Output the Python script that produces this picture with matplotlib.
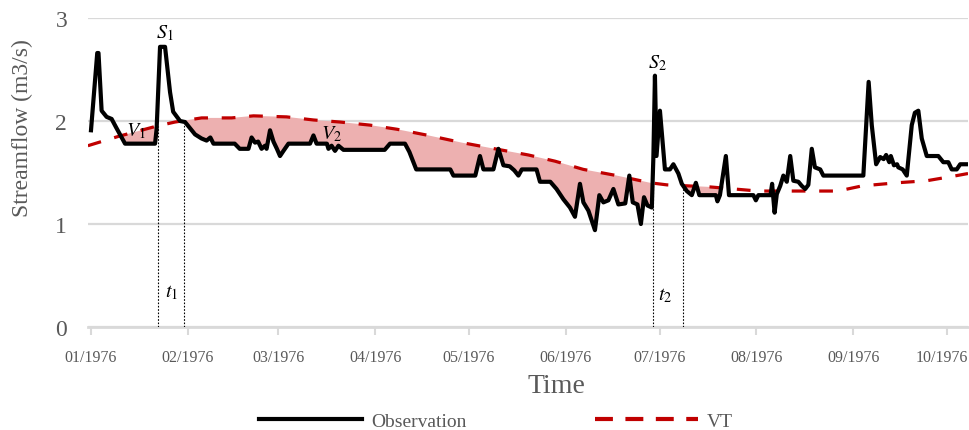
import datetime as dt
import numpy as np
import matplotlib
matplotlib.use("Agg")
import matplotlib.pyplot as plt
import matplotlib.dates as mdates
import matplotlib.transforms as mtransforms
from matplotlib.lines import Line2D

plt.rcParams['font.family'] = ['Liberation Serif', 'DejaVu Serif']
plt.rcParams['mathtext.fontset'] = 'stix'

# ---- data: days counted from 1 Jan 1976 ----
obs_days = [0, 2.0, 2.4, 3.4, 5.0, 6.6, 8.0, 9.8, 10.9, 20.5, 21.0, 22.1, 23.7,
            25.3, 26.3, 28.5, 30.1, 33.3, 35.4, 37.0, 38.2, 39.2, 46.0, 47.6,
            50.4, 51.4, 52.5, 53.5, 54.6, 55.7, 56.2, 57.3, 58.4, 59.5, 60.5,
            61.6, 63.2, 70.1, 71.2, 72.2, 75.5, 76.0, 77.0, 78.1, 79.2, 80.8,
            94.0, 95.7, 100.5, 101.9, 104.1, 115.0, 116.0, 123.0, 124.5, 125.6,
            128.8, 130.4, 132.0, 134.0, 135.5, 136.8, 137.9, 142.6, 143.7,
            147.0, 149.0, 151.2, 153.3, 154.9, 156.5, 157.6, 159.2, 161.3,
            162.7, 164.0, 165.6, 167.2, 168.8, 171.0, 172.3, 173.4, 174.9,
            176.0, 177.0, 178.1, 179.5, 180.0, 180.5, 181.0, 182.1, 183.7,
            185.3, 186.4, 188.0, 189.1, 190.7, 192.3, 193.6, 194.7, 200.0,
            200.5, 201.3, 203.2, 204.2, 212.0, 212.8, 213.6, 217.5, 218.0,
            218.8, 219.5, 220.6, 221.6, 222.7, 223.8, 224.8, 226.4, 227.5,
            228.6, 229.6, 230.7, 231.7, 233.4, 234.4, 247.2, 248.9, 249.9,
            251.3, 252.6, 253.7, 254.5, 255.5, 256.0, 257.0, 258.0, 258.4,
            259.8, 261.1, 262.7, 263.7, 264.8, 265.9, 267.5, 271.2, 272.8,
            274.4, 275.5, 277.1, 278.2, 280.3]
obs_vals = [1.91, 2.66, 2.66, 2.10, 2.04, 2.02, 1.94, 1.84, 1.78, 1.78, 1.92, 2.72, 2.72,
            2.28, 2.09, 2.00, 1.99, 1.87, 1.83, 1.81, 1.84, 1.78, 1.78, 1.73,
            1.73, 1.84, 1.79, 1.80, 1.73, 1.76, 1.73, 1.91, 1.80, 1.73, 1.66,
            1.71, 1.78, 1.78, 1.86, 1.78, 1.78, 1.73, 1.76, 1.71, 1.76, 1.72,
            1.72, 1.78, 1.78, 1.70, 1.53, 1.53, 1.47, 1.47, 1.66, 1.53,
            1.53, 1.73, 1.57, 1.56, 1.52, 1.47, 1.53, 1.53, 1.41,
            1.41, 1.34, 1.24, 1.16, 1.07, 1.39, 1.21, 1.13, 0.94,
            1.28, 1.21, 1.23, 1.34, 1.19, 1.20, 1.47, 1.21, 1.19,
            1.00, 1.26, 1.18, 1.16, 1.65, 2.44, 1.66, 2.10, 1.53,
            1.53, 1.58, 1.49, 1.39, 1.32, 1.28, 1.40, 1.28, 1.28,
            1.22, 1.28, 1.66, 1.28, 1.28, 1.23, 1.28, 1.28, 1.39,
            1.11, 1.29, 1.37, 1.47, 1.41, 1.66, 1.42, 1.41, 1.37,
            1.34, 1.38, 1.73, 1.55, 1.53, 1.47, 1.47, 2.38, 1.96,
            1.58, 1.65, 1.63, 1.67, 1.60, 1.66, 1.57, 1.58, 1.55,
            1.53, 1.47, 1.96, 2.08, 2.10, 1.83, 1.66, 1.66, 1.60,
            1.60, 1.53, 1.53, 1.58, 1.58]

vt_days = [-1, 8.7, 21.0, 26.9, 35.4, 45.0, 52.0, 62.6, 71.2, 79.7, 89.3, 97.9,
           108.0, 118.7, 129.3, 140.0, 148.5, 157.6, 168.3, 179.0, 184.3,
           198.1, 213.5, 228.6, 239.1, 246.8, 257.9, 267.5, 277.1, 280.7]
vt_vals = [1.76, 1.85, 1.95, 1.99, 2.03, 2.03, 2.05, 2.04, 2.01, 1.99, 1.96, 1.92,
           1.86, 1.79, 1.73, 1.67, 1.61, 1.53, 1.47, 1.40, 1.38,
           1.36, 1.32, 1.32, 1.32, 1.37, 1.40, 1.42, 1.47, 1.49]

# event markers (start/end of the two deficit periods)
event_days = [21.5, 29.8, 180.0, 189.6]
event_tops = [1.95, 1.98, 1.41, 1.37]

labels = [(r'$S_1$', 23.7, 2.86), (r'$S_2$', 181.2, 2.57),
          (r'$V_1$', 14.4, 1.91), (r'$V_2$', 77.1, 1.88),
          (r'$t_1$', 25.9, 0.34), (r'$t_2$', 183.7, 0.31)]

base = mdates.date2num(dt.datetime(1976, 1, 1))
to_num = lambda d: base + np.asarray(d, dtype=float)

fig = plt.figure(figsize=(9.70, 4.31), dpi=100)
ax = fig.add_axes([88/970, 1-328/431, 880/970, 309/431])

# shaded deficit volume where the threshold lies above the flow
grid = np.linspace(-1, 204, 6000)
vt_g = np.interp(grid, vt_days, vt_vals)
ob_g = np.interp(grid, obs_days, obs_vals)
ax.fill_between(to_num(grid), ob_g, vt_g, where=vt_g > ob_g, interpolate=True,
                color='#EDB0B0', lw=0, zorder=2)

ax.plot(to_num(vt_days), vt_vals, color='#C00000', lw=2.3,
        linestyle=(0, (4.3, 4.3)), zorder=3)
ax.plot(to_num(obs_days), obs_vals, color='black', lw=3.0, zorder=4,
        solid_joinstyle='round')

for d, top in zip(event_days, event_tops):
    ax.plot([to_num(d)] * 2, [0, top], color='black', lw=0.8,
            linestyle=(0, (1.5, 1.5)), zorder=3)

for txt, d, v in labels:
    ax.text(to_num(d), v, txt, fontsize=14.5, ha='center', va='center', zorder=5)

ax.set_xlim(to_num(-0.96), to_num(280.7))
ax.set_ylim(0, 3)
ax.set_yticks([0, 1, 2, 3])
ax.yaxis.grid(True, color='#D9D9D9', lw=1.6, zorder=0)
ax.set_axisbelow(True)
for s in ['top', 'right', 'left']:
    ax.spines[s].set_visible(False)
ax.spines['bottom'].set_color('#D9D9D9')
ax.spines['bottom'].set_linewidth(2.0)

ax.xaxis.set_major_locator(mdates.MonthLocator())
ax.xaxis.set_major_formatter(mdates.DateFormatter('%m/%Y'))
ax.tick_params(axis='x', colors='#D9D9D9', length=6, width=1.5, pad=10,
               labelcolor='#595959', labelsize=11.5)
ax.tick_params(axis='y', length=0, pad=15, labelcolor='#595959', labelsize=17)

# keep the last month label inside the canvas
fig.canvas.draw()
xt_labels = ax.get_xticklabels()
if xt_labels:
    last = xt_labels[-1]
    last.set_transform(last.get_transform() +
                       mtransforms.ScaledTranslation(-5/100, 0, fig.dpi_scale_trans))

fig.text(22/970, 1-128/431, 'Streamflow (m3/s)', rotation=90, ha='center',
         va='center', fontsize=17, color='#595959')
fig.text(556/970, 1-387/431, 'Time', ha='center', va='center', fontsize=20,
         color='#595959')

handles = [Line2D([], [], color='black', lw=3),
           Line2D([], [], color='#C00000', lw=3, linestyle=(0, (4.3, 3.0)))]
fig.legend(handles, ['Observation', 'VT'], loc='center',
           bbox_to_anchor=(496/970, 1-422/431), ncol=2, frameon=False,
           fontsize=14, handlelength=5.3, handletextpad=0.45,
           columnspacing=6.6, labelcolor='#595959')

fig.savefig('out.png', dpi=100)
